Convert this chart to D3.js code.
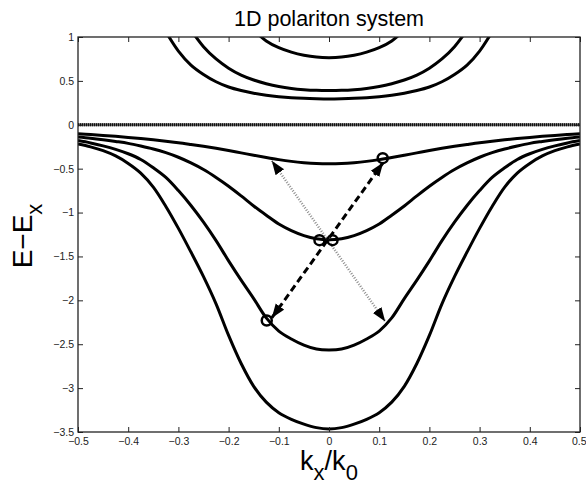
<!DOCTYPE html>
<html>
<head>
<meta charset="utf-8">
<script src="https://cdn.jsdelivr.net/npm/d3@7"></script>
<style>
  html, body { margin: 0; padding: 0; background: #fff; }
  svg { display: block; font-family: "Liberation Sans", Arial, Helvetica, sans-serif; }
</style>
</head>
<body>
<svg id="chart" width="586" height="485"></svg>
<script>
// ---------------- data ----------------
const kValues = [-0.5,-0.475,-0.45,-0.425,-0.4,-0.375,-0.35,-0.325,-0.3,-0.275,-0.25,-0.225,-0.2,-0.175,-0.15,-0.125,-0.1,-0.075,-0.05,-0.025,0,
                 0.025,0.05,0.075,0.1,0.125,0.15,0.175,0.2,0.225,0.25,0.275,0.3,0.325,0.35,0.375,0.4,0.425,0.45,0.475,0.5];

// lower polariton branches
const lowerA = [-0.102,-0.111,-0.121,-0.132,-0.144,-0.157,-0.171,-0.187,-0.204,-0.224,-0.245,-0.268,-0.293,-0.32,-0.347,-0.373,-0.397,-0.417,-0.432,-0.442,-0.445,
                -0.442,-0.432,-0.417,-0.397,-0.373,-0.347,-0.32,-0.293,-0.268,-0.245,-0.224,-0.204,-0.187,-0.171,-0.157,-0.144,-0.132,-0.121,-0.111,-0.102];
const lowerB = [-0.14,-0.153,-0.17,-0.19,-0.212,-0.242,-0.276,-0.318,-0.37,-0.435,-0.51,-0.6,-0.7,-0.81,-0.925,-1.03,-1.13,-1.205,-1.262,-1.298,-1.31,
                -1.298,-1.262,-1.205,-1.13,-1.03,-0.925,-0.81,-0.7,-0.6,-0.51,-0.435,-0.37,-0.318,-0.276,-0.242,-0.212,-0.19,-0.17,-0.153,-0.14];
const lowerC = [-0.18,-0.207,-0.24,-0.28,-0.33,-0.395,-0.49,-0.6,-0.75,-0.92,-1.11,-1.32,-1.55,-1.77,-1.98,-2.2,-2.35,-2.44,-2.51,-2.555,-2.565,
                -2.555,-2.51,-2.44,-2.35,-2.2,-1.98,-1.77,-1.55,-1.32,-1.11,-0.92,-0.75,-0.6,-0.49,-0.395,-0.33,-0.28,-0.24,-0.207,-0.18];
const lowerD = [-0.22,-0.252,-0.295,-0.355,-0.44,-0.55,-0.71,-0.93,-1.18,-1.45,-1.73,-2.04,-2.4,-2.72,-2.98,-3.16,-3.28,-3.355,-3.41,-3.45,-3.465,
                -3.45,-3.41,-3.355,-3.28,-3.16,-2.98,-2.72,-2.4,-2.04,-1.73,-1.45,-1.18,-0.93,-0.71,-0.55,-0.44,-0.355,-0.295,-0.252,-0.22];

// upper polariton branches (visible parts)
const kUpperB = [-0.15,-0.125,-0.1,-0.075,-0.05,-0.025,0,0.025,0.05,0.075,0.1,0.125,0.15];
const upperB  = [1.08,0.955,0.878,0.827,0.792,0.771,0.765,0.771,0.792,0.827,0.878,0.955,1.08];
const kUpperC = [-0.275,-0.25,-0.225,-0.2,-0.175,-0.15,-0.125,-0.1,-0.075,-0.05,-0.025,0,0.025,0.05,0.075,0.1,0.125,0.15,0.175,0.2,0.225,0.25,0.275];
const upperC  = [1.08,0.89,0.75,0.645,0.566,0.51,0.468,0.436,0.414,0.4,0.392,0.39,0.392,0.4,0.414,0.436,0.468,0.51,0.566,0.645,0.75,0.89,1.08];
const kUpperD = [-0.325,-0.3,-0.275,-0.25,-0.225,-0.2,-0.175,-0.15,-0.125,-0.1,-0.075,-0.05,-0.025,0,0.025,0.05,0.075,0.1,0.125,0.15,0.175,0.2,0.225,0.25,0.275,0.3,0.325];
const upperD  = [1.06,0.84,0.68,0.573,0.49,0.43,0.39,0.36,0.337,0.32,0.308,0.301,0.297,0.295,0.297,0.301,0.308,0.32,0.337,0.36,0.39,0.43,0.49,0.573,0.68,0.84,1.06];

// exciton level
const excitonK = [-0.5, 0.5];
const excitonE = [0, 0];

// markers and arrows (k, E)
const circleK = [0.107, -0.019, 0.007, -0.124];
const circleE = [-0.38, -1.315, -1.315, -2.23];
const dashedArrowK = [-0.114, 0.108];
const dashedArrowE = [-2.20, -0.43];
const dottedArrowK = [-0.114, 0.112];
const dottedArrowE = [-0.41, -2.24];

// ticks
const xTickValues = [-0.5,-0.4,-0.3,-0.2,-0.1,0,0.1,0.2,0.3,0.4,0.5];
const xTickLabels = ["\u22120.5","\u22120.4","\u22120.3","\u22120.2","\u22120.1","0","0.1","0.2","0.3","0.4","0.5"];
const yTickValues = [1,0.5,0,-0.5,-1,-1.5,-2,-2.5,-3,-3.5];
const yTickLabels = ["1","0.5","0","\u22120.5","\u22121","\u22121.5","\u22122","\u22122.5","\u22123","\u22123.5"];

const titleText = "1D polariton system";

// ---------------- chart ----------------
const svg = d3.select("#chart");
const plot = { left: 78, right: 580, top: 37, bottom: 432 };

const x = d3.scaleLinear().domain([-0.5, 0.5]).range([plot.left, plot.right]);
const y = d3.scaleLinear().domain([-3.5, 1]).range([plot.bottom, plot.top]);

const defs = svg.append("defs");
defs.append("clipPath").attr("id", "plotClip")
  .append("rect")
  .attr("x", plot.left).attr("y", plot.top)
  .attr("width", plot.right - plot.left).attr("height", plot.bottom - plot.top);

defs.append("marker")
  .attr("id", "head")
  .attr("markerUnits", "userSpaceOnUse")
  .attr("viewBox", "0 -6 14 12")
  .attr("refX", 14).attr("refY", 0)
  .attr("markerWidth", 14).attr("markerHeight", 12)
  .attr("orient", "auto-start-reverse")
  .append("path")
  .attr("d", "M0,-5.2L14,0L0,5.2Z")
  .attr("fill", "#000");

const g = svg.append("g").attr("clip-path", "url(#plotClip)");

const line = d3.line()
  .x(d => x(d[0]))
  .y(d => y(d[1]))
  .curve(d3.curveCatmullRom.alpha(0.5));

const zip = (a, b) => a.map((v, i) => [v, b[i]]);

// exciton flat band (dense dotted line)
g.append("path")
  .attr("d", d3.line().x(d => x(d[0])).y(d => y(d[1]))(zip(excitonK, excitonE)))
  .attr("stroke", "#666").attr("stroke-width", 3).attr("fill", "none");
g.append("path")
  .attr("d", d3.line().x(d => x(d[0])).y(d => y(d[1]))(zip(excitonK, excitonE)))
  .attr("stroke", "#111").attr("stroke-width", 3).attr("fill", "none")
  .attr("stroke-dasharray", "1,1");

const branches = [
  zip(kValues, lowerA), zip(kValues, lowerB), zip(kValues, lowerC), zip(kValues, lowerD),
  zip(kUpperB, upperB), zip(kUpperC, upperC), zip(kUpperD, upperD)
];
g.selectAll("path.branch")
  .data(branches)
  .enter().append("path")
  .attr("class", "branch")
  .attr("d", line)
  .attr("fill", "none")
  .attr("stroke", "#000")
  .attr("stroke-width", 3)
  .attr("stroke-linejoin", "round");

// dotted arrow (grey)
g.append("path")
  .attr("d", d3.line().x(d => x(d[0])).y(d => y(d[1]))(zip(dottedArrowK, dottedArrowE)))
  .attr("stroke", "#8c8c8c").attr("stroke-width", 2.5).attr("fill", "none")
  .attr("stroke-dasharray", "1,1.6")
  .attr("marker-start", "url(#head)").attr("marker-end", "url(#head)");

// dashed arrow (black)
g.append("path")
  .attr("d", d3.line().x(d => x(d[0])).y(d => y(d[1]))(zip(dashedArrowK, dashedArrowE)))
  .attr("stroke", "#000").attr("stroke-width", 3).attr("fill", "none")
  .attr("stroke-dasharray", "7,4")
  .attr("marker-start", "url(#head)").attr("marker-end", "url(#head)");

// open circles
g.selectAll("circle.pt")
  .data(zip(circleK, circleE))
  .enter().append("circle")
  .attr("class", "pt")
  .attr("cx", d => x(d[0])).attr("cy", d => y(d[1]))
  .attr("r", 5)
  .attr("fill", "none").attr("stroke", "#000").attr("stroke-width", 2.5);

// axes (MATLAB-style box with inward ticks)
const fmtX = d => xTickLabels[xTickValues.indexOf(d)];
const fmtY = d => yTickLabels[yTickValues.indexOf(d)];

const axB = svg.append("g").attr("transform", `translate(0,${plot.bottom})`)
  .call(d3.axisBottom(x).tickValues(xTickValues).tickFormat(fmtX).tickSize(-5).tickPadding(6));
const axL = svg.append("g").attr("transform", `translate(${plot.left},0)`)
  .call(d3.axisLeft(y).tickValues(yTickValues).tickFormat(fmtY).tickSize(-5).tickPadding(4));
const axT = svg.append("g").attr("transform", `translate(0,${plot.top})`)
  .call(d3.axisTop(x).tickValues(xTickValues).tickFormat("").tickSize(-5));
const axR = svg.append("g").attr("transform", `translate(${plot.right},0)`)
  .call(d3.axisRight(y).tickValues(yTickValues).tickFormat("").tickSize(-5));

[axB, axL, axT, axR].forEach(a => {
  a.select(".domain").remove();
  a.selectAll(".tick line").attr("stroke", "#222").attr("stroke-width", 1);
  a.selectAll(".tick text").attr("fill", "#222").style("font-size", "10.5px")
    .style("font-family", '"Liberation Sans", Arial, sans-serif');
});
// keep the last x label inside the canvas, flush with the right edge
axB.selectAll(".tick text").filter(d => d === 0.5).attr("text-anchor", "end").attr("x", 586 - plot.right);

svg.append("rect")
  .attr("x", plot.left).attr("y", plot.top)
  .attr("width", plot.right - plot.left).attr("height", plot.bottom - plot.top)
  .attr("fill", "none").attr("stroke", "#222").attr("stroke-width", 1.3);

// title
svg.append("text")
  .attr("x", (plot.left + plot.right) / 2).attr("y", 26)
  .attr("text-anchor", "middle")
  .style("font-size", "21.5px").attr("fill", "#000")
  .text(titleText);

// x label: k_x/k_0
const xl = svg.append("text")
  .attr("x", (plot.left + plot.right) / 2).attr("y", 470)
  .attr("text-anchor", "middle").attr("fill", "#000")
  .style("font-size", "27px");
xl.append("tspan").text("k");
xl.append("tspan").attr("dy", 10).style("font-size", "22px").text("x");
xl.append("tspan").attr("dy", -10).text("/k");
xl.append("tspan").attr("dy", 10).style("font-size", "22px").text("0");

// y label: E−E_x
const yl = svg.append("text")
  .attr("transform", "translate(31.5,236) rotate(-90)")
  .attr("text-anchor", "middle").attr("fill", "#000")
  .style("font-size", "28px");
yl.append("tspan").text("E\u2212E");
yl.append("tspan").attr("dy", 10).style("font-size", "22px").text("x");
</script>
</body>
</html>
